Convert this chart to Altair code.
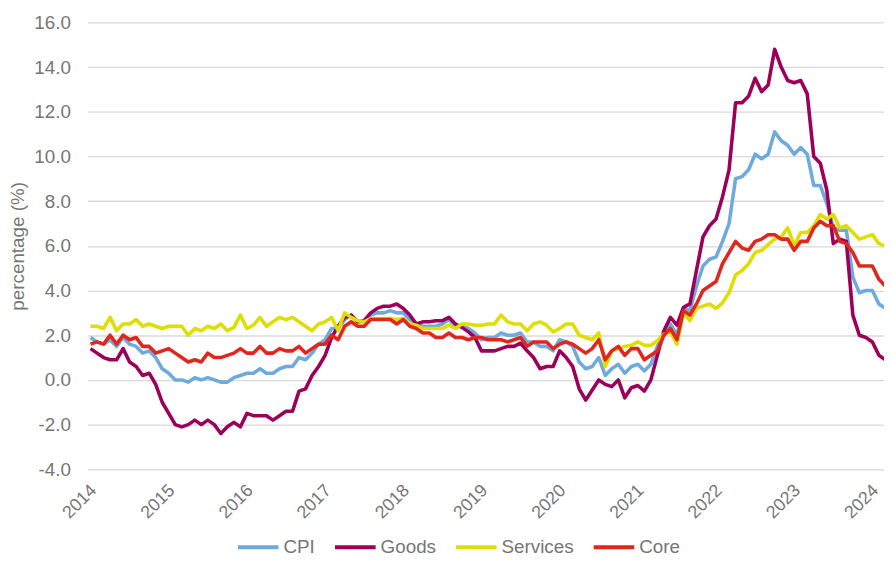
import altair as alt
import pandas as pd

# ---- data (annual % change, monthly Jan 2014 .. Mar 2024) ----
years = [y for y in range(2014, 2025) for _ in range(12)][:123]
months = [m for _ in range(2014, 2025) for m in range(1, 13)][:123]

series_names = ["CPI", "Goods", "Services", "Core"]
series_colors = ["#6EAADE", "#9C0058", "#DEDE00", "#E2261E"]

cpi = [
    1.9, 1.7, 1.6, 1.8, 1.5, 1.9, 1.6, 1.5, 1.2, 1.3, 1.0, 0.5,
    0.3, 0.0, 0.0, -0.1, 0.1, 0.0, 0.1, 0.0, -0.1, -0.1, 0.1, 0.2,
    0.3, 0.3, 0.5, 0.3, 0.3, 0.5, 0.6, 0.6, 1.0, 0.9, 1.2, 1.6,
    1.8, 2.3, 2.3, 2.7, 2.9, 2.6, 2.6, 2.9, 3.0, 3.0, 3.1, 3.0,
    3.0, 2.7, 2.5, 2.4, 2.4, 2.4, 2.5, 2.7, 2.4, 2.4, 2.3, 2.1,
    1.8, 1.9, 1.9, 2.1, 2.0, 2.0, 2.1, 1.7, 1.7, 1.5, 1.5, 1.3,
    1.8, 1.7, 1.5, 0.8, 0.5, 0.6, 1.0, 0.2, 0.5, 0.7, 0.3, 0.6,
    0.7, 0.4, 0.7, 1.5, 2.1, 2.5, 2.0, 3.2, 3.1, 4.2, 5.1, 5.4,
    5.5, 6.2, 7.0, 9.0, 9.1, 9.4, 10.1, 9.9, 10.1, 11.1, 10.7, 10.5,
    10.1, 10.4, 10.1, 8.7, 8.7, 7.9, 6.8, 6.7, 6.7, 4.6, 3.9, 4.0,
    4.0, 3.4, 3.2,
]

goods = [
    1.4, 1.2, 1.0, 0.9, 0.9, 1.4, 0.8, 0.6, 0.2, 0.3, -0.2, -1.0,
    -1.5, -2.0, -2.1, -2.0, -1.8, -2.0, -1.8, -2.0, -2.4, -2.1, -1.9, -2.1,
    -1.5, -1.6, -1.6, -1.6, -1.8, -1.6, -1.4, -1.4, -0.5, -0.4, 0.2, 0.6,
    1.1, 1.9, 2.4, 2.8, 2.9, 2.6, 2.65, 3.0, 3.2, 3.3, 3.3, 3.4,
    3.2, 2.9, 2.5, 2.6, 2.6, 2.65, 2.65, 2.8, 2.5, 2.35, 2.15, 1.9,
    1.3, 1.3, 1.3, 1.4, 1.5, 1.5, 1.65, 1.3, 1.0, 0.5, 0.6, 0.6,
    1.3, 1.0, 0.6, -0.4, -0.9, -0.45, 0.0, -0.2, -0.3, 0.0, -0.8, -0.35,
    -0.25, -0.5, 0.0, 1.1, 2.2, 2.8, 2.45, 3.25, 3.4, 4.9, 6.4, 6.9,
    7.2, 8.2, 9.4, 12.4, 12.4, 12.7, 13.5, 12.9, 13.2, 14.8, 14.0, 13.4,
    13.3, 13.4, 12.8, 10.0, 9.7, 8.5, 6.1, 6.3, 6.2, 2.9, 2.0, 1.9,
    1.7, 1.1, 0.9,
]

services = [
    2.4, 2.4, 2.3, 2.8, 2.2, 2.5, 2.5, 2.7, 2.4, 2.5, 2.4, 2.3,
    2.4, 2.4, 2.4, 2.0, 2.3, 2.2, 2.4, 2.3, 2.5, 2.2, 2.35, 2.9,
    2.3, 2.45, 2.8, 2.4, 2.6, 2.8, 2.7, 2.8, 2.6, 2.4, 2.2, 2.5,
    2.6, 2.8, 2.2, 3.0, 2.8, 2.65, 2.6, 2.75, 2.75, 2.75, 2.75, 2.7,
    2.75, 2.5, 2.45, 2.3, 2.3, 2.3, 2.3, 2.45, 2.3, 2.5, 2.5, 2.45,
    2.45, 2.5, 2.5, 2.9, 2.6, 2.5, 2.5, 2.2, 2.5, 2.6, 2.45, 2.15,
    2.3, 2.5, 2.5, 2.0, 1.9, 1.8, 2.1, 0.6, 1.3, 1.4, 1.5, 1.55,
    1.7, 1.55, 1.55, 1.75, 2.05, 2.15, 1.6, 3.0, 2.65, 3.2, 3.3, 3.4,
    3.2, 3.45, 3.9, 4.7, 4.9, 5.2, 5.7, 5.8, 6.05, 6.3, 6.4, 6.8,
    6.0, 6.6, 6.6, 6.9, 7.4, 7.2, 7.4, 6.8, 6.9, 6.6, 6.3, 6.4,
    6.5, 6.1, 6.0,
]

core = [
    1.6, 1.7, 1.6, 2.0, 1.6, 2.0, 1.8, 1.9, 1.5, 1.5, 1.2, 1.3,
    1.4, 1.2, 1.0, 0.8, 0.9, 0.8, 1.2, 1.0, 1.0, 1.1, 1.2, 1.4,
    1.2, 1.2, 1.5, 1.2, 1.2, 1.4, 1.3, 1.3, 1.5, 1.2, 1.4, 1.6,
    1.6, 2.0, 1.8, 2.4, 2.6, 2.4, 2.4, 2.7, 2.7, 2.7, 2.7, 2.5,
    2.7, 2.4, 2.3, 2.1, 2.1, 1.9, 1.9, 2.1, 1.9, 1.9, 1.8, 1.9,
    1.9, 1.8, 1.8, 1.8, 1.7, 1.8, 1.9, 1.5, 1.7, 1.7, 1.7, 1.4,
    1.6, 1.7, 1.6, 1.4, 1.2, 1.4, 1.8, 0.9, 1.3, 1.5, 1.1, 1.4,
    1.4, 0.9, 1.1, 1.3, 2.0, 2.3, 1.8, 3.1, 2.9, 3.4, 4.0, 4.2,
    4.4, 5.2, 5.7, 6.2, 5.9, 5.8, 6.2, 6.3, 6.5, 6.5, 6.3, 6.3,
    5.8, 6.2, 6.2, 6.8, 7.1, 6.9, 6.9, 6.2, 6.1, 5.7, 5.1, 5.1,
    5.1, 4.5, 4.2,
]

year_ticks = list(range(2014, 2025))
y_ticks = [-4, -2, 0, 2, 4, 6, 8, 10, 12, 14, 16]

rows = []
for name, vals in zip(series_names, [cpi, goods, services, core]):
    for y, m, v in zip(years, months, vals):
        rows.append({"series": name, "year": y, "month": m, "value": v})
df = pd.DataFrame(rows)

TEXT = "#767676"
FONT = "Liberation Sans"

chart = (
    alt.Chart(df)
    .transform_calculate(t="datum.year + (datum.month - 0.5) / 12")
    .mark_line(strokeWidth=3.6, clip=True, strokeJoin="round")
    .encode(
        x=alt.X(
            "t:Q",
            scale=alt.Scale(domain=[2014, 2014 + 804 / 78.9], nice=False, zero=False),
            axis=alt.Axis(
                values=year_ticks,
                format="d",
                labelAngle=-45,
                labelAlign="right",
                labelBaseline="top",
                labelFontSize=18,
                labelPadding=12,
                labelOverlap=False,
                labelFlush=False,
                grid=False,
            ),
            title=None,
        ),
        y=alt.Y(
            "value:Q",
            scale=alt.Scale(domain=[-4, 16], nice=False, zero=False),
            axis=alt.Axis(
                values=y_ticks,
                labelExpr="(datum.value < 0 ? '-' : '') + format(abs(datum.value), '.1f')",
                labelFontSize=19,
                labelPadding=17,
                grid=True,
                titleX=-64,
                titleY=225.5,
                titleAngle=-90,
                titleBaseline="alphabetic",
                titleAlign="center",
                titleFontSize=19,
                titleFontWeight="normal",
            ),
            title="percentage (%)",
        ),
        color=alt.Color(
            "series:N",
            scale=alt.Scale(domain=series_names, range=series_colors),
            sort=series_names,
            legend=alt.Legend(
                title=None,
                orient="none",
                direction="horizontal",
                legendX=150,
                legendY=507,
                symbolType="stroke",
                symbolStrokeWidth=4,
                symbolSize=1681,
                labelFontSize=19,
                labelFont=FONT,
                labelColor=TEXT,
                labelOffset=3,
                columnPadding=12,
                padding=0,
            ),
        ),
    )
    .properties(
        width=804,
        height=451,
        autosize=alt.AutoSizeParams(type="none"),
        padding={"left": 80, "top": 12, "right": 0, "bottom": 87},
    )
    .configure_view(stroke=None)
    .configure_axis(
        domain=False,
        ticks=False,
        gridColor="#d9d9d9",
        gridWidth=1.3,
        labelColor=TEXT,
        titleColor=TEXT,
        labelFont=FONT,
        titleFont=FONT,
    )
)

chart.save("out.html", embed_options={"renderer": "svg", "actions": False})
